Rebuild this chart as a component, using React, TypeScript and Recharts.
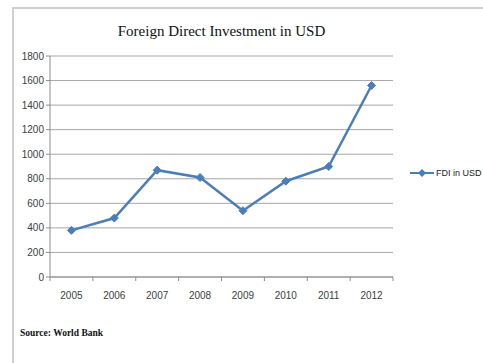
import { LineChart, Line, XAxis, YAxis, CartesianGrid } from 'recharts';

const years = ['2005', '2006', '2007', '2008', '2009', '2010', '2011', '2012'];
const fdiValues = [380, 480, 870, 810, 540, 780, 900, 1560];
const yTicks = [0, 200, 400, 600, 800, 1000, 1200, 1400, 1600, 1800];

const chartData = years.map((year, i) => ({ year, fdi: fdiValues[i] }));

const BLUE = '#4a7ebb';

function Diamond(props: any) {
  const { cx, cy } = props;
  if (cx == null || cy == null) return null;
  const r = 4;
  return (
    <polygon
      points={`${cx},${cy - r} ${cx + r},${cy} ${cx},${cy + r} ${cx - r},${cy}`}
      fill={BLUE}
      stroke={BLUE}
      strokeWidth={1}
    />
  );
}

// category labels centred, tick marks on the category boundaries (Excel style)
function YearTick(props: any) {
  const { x, y, payload, width, visibleTicksCount, index } = props;
  const band = width / visibleTicksCount;
  return (
    <g>
      <line x1={x - band / 2} y1={y - 8} x2={x - band / 2} y2={y - 4} stroke="#8c8c8c" />
      {index === visibleTicksCount - 1 && (
        <line x1={x + band / 2} y1={y - 8} x2={x + band / 2} y2={y - 4} stroke="#8c8c8c" />
      )}
      <text x={x} y={y + 14} textAnchor="middle" fontSize={10} fill="#404040" fontFamily="'Liberation Sans', Arial, sans-serif">
        {payload.value}
      </text>
    </g>
  );
}

export default function App() {
  return (
    <div style={{ position: 'fixed', left: 0, top: 0, width: 483, height: 363, background: '#fff', overflow: 'hidden' }}>
      <div
        style={{
          position: 'absolute',
          left: 12,
          top: 7,
          width: 471,
          height: 356,
          borderTop: '2px solid #cfcfcf',
          borderLeft: '2px solid #cfcfcf',
        }}
      />
      <div
        style={{
          position: 'absolute',
          left: 0,
          width: 443,
          top: 23,
          textAlign: 'center',
          fontFamily: "'Liberation Serif', 'DejaVu Serif', serif",
          fontSize: 15,
          color: '#111',
        }}
      >
        Foreign Direct Investment in USD
      </div>
      <div
        style={{
          position: 'absolute',
          left: 20,
          top: 328,
          fontFamily: "'Liberation Serif', 'DejaVu Serif', serif",
          fontSize: 9.5,
          fontWeight: 'bold',
          color: '#111',
        }}
      >
        Source: World Bank
      </div>
      <div style={{ position: 'absolute', left: 410, top: 168, display: 'flex', alignItems: 'center' }}>
        <svg width={24} height={10}>
          <line x1={0} y1={5} x2={24} y2={5} stroke={BLUE} strokeWidth={2} />
          <polygon points="12,1 16,5 12,9 8,5" fill={BLUE} />
        </svg>
        <span style={{ fontSize: 9, color: '#222', marginLeft: 2, fontFamily: "'Liberation Sans', Arial, sans-serif" }}>
          FDI in USD
        </span>
      </div>
      <div style={{ position: 'absolute', left: 0, top: 0 }}>
        <LineChart width={483} height={363} data={chartData} margin={{ top: 56, right: 90, bottom: 56, left: 12 }}>
          <CartesianGrid vertical={false} stroke="#a6a6a6" strokeWidth={1} />
          <XAxis
            dataKey="year"
            scale="band"
            height={30}
            axisLine={{ stroke: '#8c8c8c' }}
            tickLine={false}
            tick={<YearTick />}
            interval={0}
          />
          <YAxis
            width={38}
            domain={[0, 1800]}
            ticks={yTicks}
            interval={0}
            axisLine={{ stroke: '#8c8c8c' }}
            tickLine={{ stroke: '#8c8c8c' }}
            tickSize={4}
            tick={{ fontSize: 10, fill: '#404040', fontFamily: "'Liberation Sans', Arial, sans-serif" }}
          />
          <Line
            type="linear"
            dataKey="fdi"
            name="FDI in USD"
            stroke={BLUE}
            strokeWidth={2.5}
            dot={<Diamond />}
            activeDot={false}
            isAnimationActive={false}
          />
        </LineChart>
      </div>
    </div>
  );
}
